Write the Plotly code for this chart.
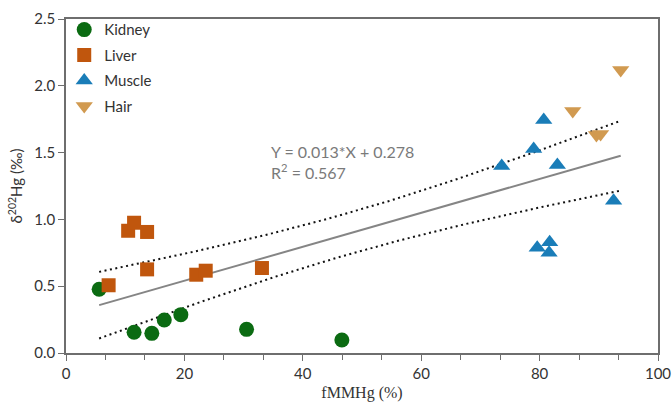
import numpy as np
import plotly.graph_objects as go

# ---- data ----
kidney_x = [5.6, 11.5, 14.5, 16.6, 19.4, 30.5, 46.6]
kidney_y = [0.477, 0.155, 0.147, 0.247, 0.287, 0.177, 0.097]

liver_x = [7.2, 10.5, 11.5, 13.7, 13.7, 22.0, 23.6, 33.1]
liver_y = [0.507, 0.915, 0.975, 0.906, 0.626, 0.586, 0.616, 0.636]

muscle_x = [73.6, 79.0, 80.7, 83.0, 92.5, 79.6, 81.7, 81.6]
muscle_y = [1.40, 1.527, 1.744, 1.407, 1.14, 0.788, 0.829, 0.75]

hair_x = [93.7, 85.6, 89.6, 90.3]
hair_y = [2.118, 1.811, 1.632, 1.64]

# regression line & confidence band parameters (as drawn)
reg_slope = 0.0127
reg_intercept = 0.287
band_center_x = 48.0
band_a = 0.024
band_b = 2.12e-5

x_ticks = [0, 20, 40, 60, 80, 100]
y_ticks = [0.0, 0.5, 1.0, 1.5, 2.0, 2.5]

colors = {
    "Kidney": "#0b6b12",
    "Liver": "#c0560d",
    "Muscle": "#1a7db8",
    "Hair": "#d19a50",
}

all_x = np.array(kidney_x + liver_x + muscle_x + hair_x)
xl = np.linspace(all_x.min(), all_x.max(), 120)
yl = reg_intercept + reg_slope * xl
half = np.sqrt(band_a + band_b * (xl - band_center_x) ** 2)

FONT = "Lato, Open Sans, sans-serif"

fig = go.Figure()

fig.add_trace(go.Scatter(x=xl, y=yl, mode="lines", line=dict(color="#858585", width=2),
                         showlegend=False, hoverinfo="skip"))
for yy in (yl + half, yl - half):
    fig.add_trace(go.Scatter(x=xl, y=yy, mode="lines",
                             line=dict(color="#111111", width=2, dash="2px,3.5px"),
                             showlegend=False, hoverinfo="skip"))

fig.add_trace(go.Scatter(x=kidney_x, y=kidney_y, mode="markers", name="Kidney", legendgroup="k",
                         marker=dict(symbol="circle", size=15, color=colors["Kidney"])))
fig.add_trace(go.Scatter(x=liver_x, y=liver_y, mode="markers", name="Liver", legendgroup="l",
                         marker=dict(symbol="square", size=14, color=colors["Liver"])))
fig.add_trace(go.Scatter(x=muscle_x, y=muscle_y, mode="markers", name="Muscle", legendgroup="m",
                         marker=dict(symbol="triangle-up", size=15, color=colors["Muscle"])))
fig.add_trace(go.Scatter(x=hair_x, y=hair_y, mode="markers", name="Hair", legendgroup="h",
                         marker=dict(symbol="triangle-down", size=15, color=colors["Hair"])))

fig.add_annotation(x=34.3, y=1.43, xref="x", yref="y", showarrow=False,
                   xanchor="left", yanchor="middle", align="left",
                   text="Y = 0.013*X + 0.278<br>R<sup>2</sup> = 0.567",
                   font=dict(family=FONT, size=16, color="#7a7a7a"))

fig.update_layout(
    width=672, height=403,
    margin=dict(l=66, r=14, t=19, b=50),
    paper_bgcolor="white", plot_bgcolor="white",
    font=dict(family=FONT, size=15, color="#333333"),
    legend=dict(x=-0.003, y=1.017, xanchor="left", yanchor="top",
                bgcolor="rgba(0,0,0,0)", font=dict(family=FONT, size=15, color="#333333"),
                itemsizing="trace", traceorder="grouped", tracegroupgap=3),
)

fig.update_xaxes(range=[0, 100], tickvals=x_ticks, ticktext=[str(v) for v in x_ticks],
                 automargin=False,
                 showgrid=False, zeroline=False, showline=True, linecolor="#6e6e6e",
                 linewidth=1.5, mirror=True, ticks="outside", ticklen=6,
                 tickcolor="#6e6e6e", tickwidth=1.2,
                 minor=dict(dtick=20 / 3, tick0=0, ticks="outside", ticklen=5,
                            tickcolor="#6e6e6e", tickwidth=1.2),
                 title=dict(text="fMMHg (%)", standoff=6,
                            font=dict(family="Liberation Serif, Times New Roman, serif",
                                      size=16, color="#333333")),
                 tickfont=dict(family=FONT, size=15, color="#333333"))

fig.update_yaxes(range=[0, 2.5], tickvals=y_ticks, ticktext=[f"{v:.1f}" for v in y_ticks],
                 automargin=False,
                 showgrid=False, zeroline=False, showline=True, linecolor="#6e6e6e",
                 linewidth=1.5, mirror=True, ticks="outside", ticklen=6,
                 tickcolor="#6e6e6e", tickwidth=1.2,
                 title=dict(text="δ<sup>202</sup>Hg (‰)", standoff=8,
                            font=dict(family=FONT, size=15, color="#333333")),
                 tickfont=dict(family=FONT, size=15, color="#333333"))

fig.write_html(
    "out.html",
    config={"displayModeBar": False},
    post_script="document.body.style.margin='0';document.body.style.padding='0';"
                "document.body.style.overflow='hidden';",
)
